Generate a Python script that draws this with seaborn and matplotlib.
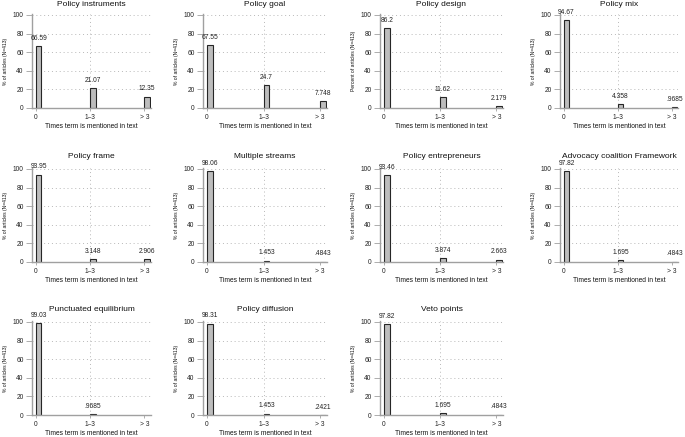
import numpy as np
import pandas as pd
import matplotlib
matplotlib.use('Agg')
import matplotlib.pyplot as plt
import seaborn as sns

# data
categories = ['0', '1–3', '> 3']
titles = [
    'Policy instruments', 'Policy goal', 'Policy design', 'Policy mix',
    'Policy frame', 'Multiple streams', 'Policy entrepreneurs', 'Advocacy coalition Framework',
    'Punctuated equilibrium', 'Policy diffusion', 'Veto points',
]
values = [
    [66.59, 21.07, 12.35],
    [67.55, 24.7, 7.748],
    [86.2, 11.62, 2.179],
    [94.67, 4.358, 0.9685],
    [93.95, 3.148, 2.906],
    [98.06, 1.453, 0.4843],
    [93.46, 3.874, 2.663],
    [97.82, 1.695, 0.4843],
    [99.03, 0.9685, np.nan],
    [98.31, 1.453, 0.2421],
    [97.82, 1.695, 0.4843],
]
ylabels = ['% of articles (N=413)'] * 11
ylabels[2] = 'Percent of articles (N=413)'


def stata_fmt(v):
    s = f'{v:.4g}'
    if s.startswith('0.'):
        s = s[1:]
    return s


sns.set_theme(style='white')
plt.rcParams['font.family'] = ['Liberation Sans', 'DejaVu Sans']

W, H = 685, 437
fig = plt.figure(figsize=(W / 100, H / 100), dpi=100)

cols = [(32, 151), (203, 327), (380, 503), (560, 678)]
rows = [108, 262, 415]  # pixel y of the zero line
axis_h = 94

bar_color = '#bdbdbd'
edge_color = '#262626'
axis_color = '#a0a0a0'
grid_color = '#b8b8b8'
x_right = 2.12

for i, (title, vals) in enumerate(zip(titles, values)):
    r, c = divmod(i, 4)
    x0, x1 = cols[c]
    y0 = rows[r]
    ax = fig.add_axes([x0 / W, 1 - y0 / H, (x1 - x0) / W, axis_h / H])

    df = pd.DataFrame({'times': categories, 'pct': vals}).dropna()
    sns.barplot(data=df, x='times', y='pct', order=categories, width=0.1,
                color=bar_color, edgecolor=edge_color, linewidth=0.8,
                saturation=1, errorbar=None, ax=ax)

    # Stata draws the bar starting at the tick, not centred on it
    for p in ax.patches:
        p.set_x(p.get_x() + p.get_width() / 2)
        p.set_facecolor(bar_color)

    ax.bar_label(ax.containers[0], labels=[stata_fmt(v) for v in df['pct']],
                 padding=3, fontsize=4.8, color='#222222', clip_on=False)

    ax.set_xlim(-0.07, x_right)
    ax.set_ylim(0, 101)
    ax.set_yticks([0, 20, 40, 60, 80, 100])
    ax.set_xticks([0, 1, 2])
    ax.set_xticklabels(categories)

    for y in [20, 40, 60, 80, 100]:
        ax.axhline(y, color=grid_color, lw=0.7, ls=(0, (1, 3)), zorder=0)
    for x in [1, x_right]:
        ax.axvline(x, color=grid_color, lw=0.7, ls=(0, (1, 3)), zorder=0)

    sns.despine(ax=ax, top=True, right=True)
    for side in ['left', 'bottom']:
        ax.spines[side].set_color(axis_color)
        ax.spines[side].set_linewidth(1.0)

    ax.tick_params(axis='y', length=4, width=0.6, color=axis_color, pad=2,
                   labelsize=4.8, labelcolor='#222222', left=True)
    ax.tick_params(axis='x', length=2, width=0.6, color=axis_color, pad=2,
                   labelsize=4.8, labelcolor='#222222', bottom=True)

    ax.set_title(title, fontsize=6, pad=6 if r == 0 else 7.5, color='#111111')
    ax.set_xlabel('Times term is mentioned in text', fontsize=4.8, labelpad=2, color='#111111')
    ax.set_ylabel(ylabels[i], fontsize=3.6, labelpad=3.5, color='#111111')

fig.savefig('out.png', dpi=100, facecolor='white')
